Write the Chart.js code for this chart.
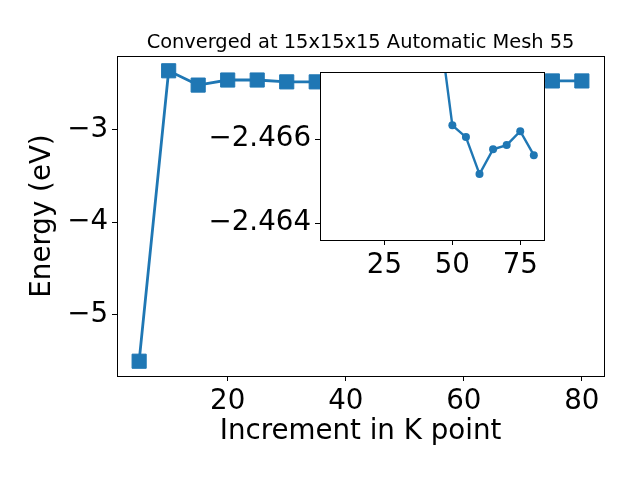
<!DOCTYPE html>
<html>
<head>
<meta charset="utf-8">
<script src="https://cdn.jsdelivr.net/npm/chart.js@4"></script>
<style>
  body { margin: 0; background: #fff; }
  #wrap { position: relative; width: 640px; height: 480px; }
  #mainChart { position: absolute; left: 0; top: 0; }
  #insetChart { position: absolute; left: 180px; top: 40px; }
</style>
</head>
<body>
<div id="wrap">
  <canvas id="mainChart" width="640" height="480"></canvas>
  <canvas id="insetChart" width="400" height="240"></canvas>
</div>
<script>
// data
const kPoints = [5, 10, 15, 20, 25, 30, 35, 40, 45, 50, 55, 60, 65, 70, 75, 80];
const energy = [-5.505, -2.36, -2.515, -2.46, -2.46, -2.48, -2.48, -2.47, -2.469, -2.466, -2.466, -2.465, -2.466, -2.466, -2.47, -2.47];
const insetK = [45, 50, 55, 60, 65, 70, 75, 80];
const insetEnergy = [-2.4688, -2.46633, -2.46605, -2.46517, -2.46576, -2.46586, -2.46619, -2.46562];
const xTicks = [20, 40, 60, 80];
const yTicks = [-5, -4, -3];
const insetXTicks = [25, 50, 75];
const insetYTicks = [-2.466, -2.464];
const titleText = 'Converged at 15x15x15 Automatic Mesh 55';

const blue = '#1f77b4';
const font = 'DejaVu Sans';
const bigFont = 27.7;
const minus = v => String(v).replace('-', '\u2212');

// black box round the plot, white fill for the inset, title over the plot area
const frame = {
  id: 'frame',
  beforeDraw(chart, args, opts) {
    if (!opts.fill) return;
    const a = chart.chartArea, ctx = chart.ctx;
    ctx.save();
    ctx.fillStyle = '#fff';
    ctx.fillRect(a.left, a.top, a.right - a.left, a.bottom - a.top);
    ctx.restore();
  },
  afterDraw(chart, args, opts) {
    const a = chart.chartArea, ctx = chart.ctx;
    ctx.save();
    ctx.strokeStyle = '#000';
    ctx.lineWidth = 1;
    ctx.strokeRect(Math.round(a.left) + 0.5, Math.round(a.top) + 0.5,
      Math.round(a.right - a.left), Math.round(a.bottom - a.top));
    if (opts.title) {
      ctx.fillStyle = '#000';
      ctx.font = '19.4px "DejaVu Sans"';
      ctx.textAlign = 'center';
      ctx.textBaseline = 'alphabetic';
      ctx.fillText(opts.title, (a.left + a.right) / 2, a.top - 8);
    }
    ctx.restore();
  }
};

function axis(ticks, extra) {
  return Object.assign({
    type: 'linear',
    afterBuildTicks: s => { s.ticks = ticks.map(v => ({ value: v })); },
    grid: { drawOnChartArea: false, drawTicks: true, tickLength: 5, color: '#000', lineWidth: 1 },
    border: { display: false },
    ticks: { color: '#000', font: { family: font, size: bigFont }, padding: 4, callback: v => minus(v) }
  }, extra);
}

const mainChart = new Chart(document.getElementById('mainChart'), {
  type: 'line',
  data: {
    datasets: [{
      data: kPoints.map((k, i) => ({ x: k, y: energy[i] })),
      borderColor: blue,
      backgroundColor: blue,
      borderWidth: 2.8,
      pointStyle: 'rect',
      pointRadius: 10,
      pointBorderWidth: 1,
      tension: 0
    }]
  },
  options: {
    responsive: false,
    animation: false,
    layout: { padding: { left: 0, right: 36, top: 56, bottom: 0 } },
    plugins: {
      legend: { display: false },
      tooltip: { enabled: false },
      frame: { fill: false, title: titleText }
    },
    scales: {
      x: axis(xTicks, {
        min: 1.25, max: 83.75,
        afterFit: s => { s.height = 104; },
        title: { display: true, text: 'Increment in K point', color: '#000',
          font: { family: font, size: bigFont }, padding: { top: 0, bottom: 32 } }
      }),
      y: axis(yTicks, {
        min: -5.665, max: -2.2,
        afterFit: s => { s.width = 117; },
        title: { display: true, text: 'Energy (eV)', color: '#000',
          font: { family: font, size: bigFont }, padding: { top: 26, bottom: 0 } }
      })
    }
  },
  plugins: [frame]
});

const insetChart = new Chart(document.getElementById('insetChart'), {
  type: 'line',
  data: {
    datasets: [{
      data: insetK.map((k, i) => ({ x: k, y: insetEnergy[i] })),
      borderColor: blue,
      backgroundColor: blue,
      borderWidth: 2.4,
      pointRadius: 4,
      pointBorderWidth: 0,
      tension: 0
    }]
  },
  options: {
    responsive: false,
    animation: false,
    layout: { padding: { left: 0, right: 36, top: 32, bottom: 0 } },
    plugins: {
      legend: { display: false },
      tooltip: { enabled: false },
      frame: { fill: true }
    },
    scales: {
      x: axis(insetXTicks, {
        min: 1.25, max: 83.75,
        afterFit: s => { s.height = 40; }
      }),
      y: axis(insetYTicks, {
        min: -2.4676, max: -2.4636,
        reverse: true,
        afterFit: s => { s.width = 140; }
      })
    }
  },
  plugins: [frame]
});
</script>
</body>
</html>
